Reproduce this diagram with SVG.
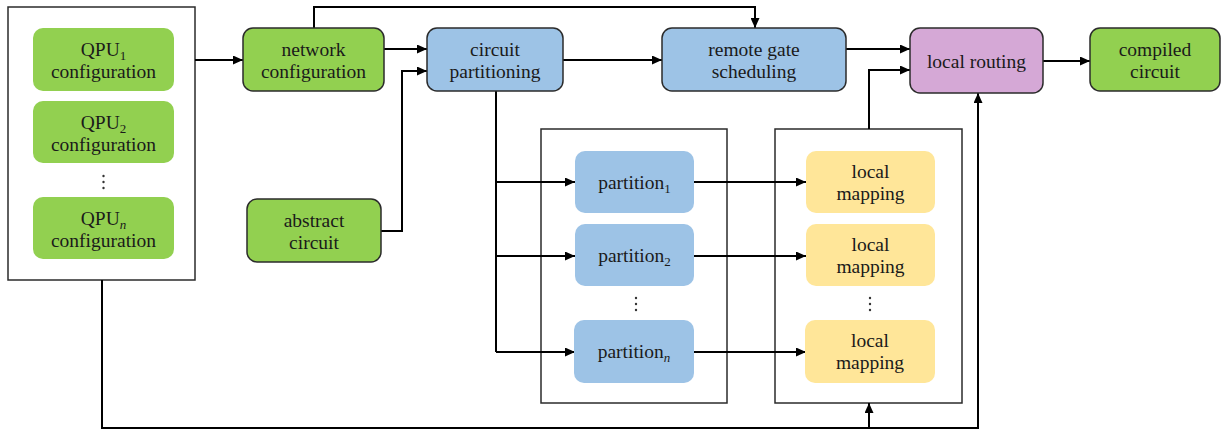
<svg xmlns="http://www.w3.org/2000/svg" width="1221" height="432" viewBox="0 0 1221 432">
  <style>
    text { font-family: "Liberation Serif", "Times New Roman", "DejaVu Serif", serif; font-size: 19.5px; fill: #1a1a1a; text-anchor: middle; }
    .sub { font-size: 13px; }
    .frame { fill: #ffffff; stroke: #2b2b2b; stroke-width: 1.5; }
    .green { fill: #92D050; }
    .blue { fill: #9DC3E6; }
    .purple { fill: #D5A8D6; }
    .yellow { fill: #FFE699; }
    .edge { stroke: #2b2b2b; stroke-width: 1.5; }
    .wire { fill: none; stroke: #000000; stroke-width: 2; }
    .dots { fill: #333333; }
  </style>
  <defs>
    <marker id="arrow" markerUnits="userSpaceOnUse" markerWidth="10" markerHeight="9" refX="10" refY="4.5" orient="auto">
      <path d="M0,0 L10,4.5 L0,9 z" fill="#000000"/>
    </marker>
  </defs>

  <rect width="1221" height="432" fill="#ffffff"/>

  <!-- container frames -->
  <g id="qpu-group">
    <rect class="frame" x="8" y="7" width="187" height="273"/>
  </g>
  <g id="partition-group">
    <rect class="frame" x="541" y="129" width="186" height="274"/>
  </g>
  <g id="mapping-group">
    <rect class="frame" x="775" y="129" width="187" height="274"/>
  </g>

  <!-- connectors -->
  <g id="connectors">
    <path class="wire" d="M195,60 H243" marker-end="url(#arrow)"/>
    <path class="wire" d="M384,49 H427" marker-end="url(#arrow)"/>
    <path class="wire" d="M314,28 V7 H755 V28" marker-end="url(#arrow)"/>
    <path class="wire" d="M381,231 H402 V71 H427" marker-end="url(#arrow)"/>
    <path class="wire" d="M563,60 H662" marker-end="url(#arrow)"/>
    <path class="wire" d="M846,49 H910" marker-end="url(#arrow)"/>
    <path class="wire" d="M869,129 V70 H910" marker-end="url(#arrow)"/>
    <path class="wire" d="M1043,61 H1090" marker-end="url(#arrow)"/>
    <path class="wire" d="M496,91 V352"/>
    <path class="wire" d="M496,182 H575" marker-end="url(#arrow)"/>
    <path class="wire" d="M496,256 H575" marker-end="url(#arrow)"/>
    <path class="wire" d="M496,352 H575" marker-end="url(#arrow)"/>
    <path class="wire" d="M694,182 H806" marker-end="url(#arrow)"/>
    <path class="wire" d="M694,256 H806" marker-end="url(#arrow)"/>
    <path class="wire" d="M694,352 H806" marker-end="url(#arrow)"/>
    <path class="wire" d="M102,280 V428 H978 V93" marker-end="url(#arrow)"/>
    <path class="wire" d="M869,428 V403" marker-end="url(#arrow)"/>
  </g>

  <g font-family="Liberation Serif, Times New Roman, serif">
  <!-- QPU configurations -->
  <g id="qpu1">
    <rect class="green" x="33" y="28" width="141" height="63" rx="10"/>
    <text x="103.5" y="56">QPU<tspan class="sub" baseline-shift="-30%">1</tspan></text>
    <text x="103.5" y="78">configuration</text>
  </g>
  <g id="qpu2">
    <rect class="green" x="33" y="101" width="141" height="62" rx="10"/>
    <text x="103.5" y="129">QPU<tspan class="sub" baseline-shift="-30%">2</tspan></text>
    <text x="103.5" y="151">configuration</text>
  </g>
  <g id="qpu-dots">
    <circle class="dots" cx="103.5" cy="176" r="1.2"/>
    <circle class="dots" cx="103.5" cy="182" r="1.2"/>
    <circle class="dots" cx="103.5" cy="188" r="1.2"/>
  </g>
  <g id="qpun">
    <rect class="green" x="33" y="197" width="141" height="62" rx="10"/>
    <text x="103.5" y="225">QPU<tspan class="sub" baseline-shift="-30%" font-style="italic">n</tspan></text>
    <text x="103.5" y="247">configuration</text>
  </g>

  <!-- main pipeline -->
  <g id="network-configuration">
    <rect class="green edge" x="243" y="28" width="141" height="63" rx="10"/>
    <text x="313.5" y="56">network</text>
    <text x="313.5" y="78">configuration</text>
  </g>
  <g id="abstract-circuit">
    <rect class="green edge" x="247" y="199" width="134" height="63" rx="10"/>
    <text x="314" y="227">abstract</text>
    <text x="314" y="249">circuit</text>
  </g>
  <g id="circuit-partitioning">
    <rect class="blue edge" x="427" y="28" width="136" height="63" rx="10"/>
    <text x="495" y="56">circuit</text>
    <text x="495" y="78">partitioning</text>
  </g>
  <g id="remote-gate-scheduling">
    <rect class="blue edge" x="662" y="28" width="184" height="63" rx="10"/>
    <text x="754" y="56">remote gate</text>
    <text x="754" y="78">scheduling</text>
  </g>
  <g id="local-routing">
    <rect class="purple edge" x="910" y="28" width="133" height="65" rx="10"/>
    <text x="976.5" y="68">local routing</text>
  </g>
  <g id="compiled-circuit">
    <rect class="green edge" x="1090" y="28" width="130" height="63" rx="10"/>
    <text x="1155" y="56">compiled</text>
    <text x="1155" y="78">circuit</text>
  </g>

  <!-- partitions -->
  <g id="partition1">
    <rect class="blue" x="575" y="151" width="119" height="62" rx="10"/>
    <text x="634.5" y="189">partition<tspan class="sub" baseline-shift="-30%">1</tspan></text>
  </g>
  <g id="partition2">
    <rect class="blue" x="575" y="224" width="119" height="62" rx="10"/>
    <text x="634.5" y="262">partition<tspan class="sub" baseline-shift="-30%">2</tspan></text>
  </g>
  <g id="partition-dots">
    <circle class="dots" cx="636" cy="298" r="1.2"/>
    <circle class="dots" cx="636" cy="304" r="1.2"/>
    <circle class="dots" cx="636" cy="310" r="1.2"/>
  </g>
  <g id="partitionn">
    <rect class="blue" x="574" y="320" width="120" height="63" rx="10"/>
    <text x="634" y="358">partition<tspan class="sub" baseline-shift="-30%" font-style="italic">n</tspan></text>
  </g>

  <!-- local mappings -->
  <g id="mapping1">
    <rect class="yellow" x="806" y="151" width="129" height="62" rx="10"/>
    <text x="870.5" y="178">local</text>
    <text x="870.5" y="200">mapping</text>
  </g>
  <g id="mapping2">
    <rect class="yellow" x="806" y="224" width="129" height="62" rx="10"/>
    <text x="870.5" y="251">local</text>
    <text x="870.5" y="273">mapping</text>
  </g>
  <g id="mapping-dots">
    <circle class="dots" cx="870" cy="298" r="1.2"/>
    <circle class="dots" cx="870" cy="304" r="1.2"/>
    <circle class="dots" cx="870" cy="310" r="1.2"/>
  </g>
  <g id="mappingn">
    <rect class="yellow" x="805" y="320" width="130" height="63" rx="10"/>
    <text x="870" y="347">local</text>
    <text x="870" y="369">mapping</text>
  </g>
  </g>
</svg>
